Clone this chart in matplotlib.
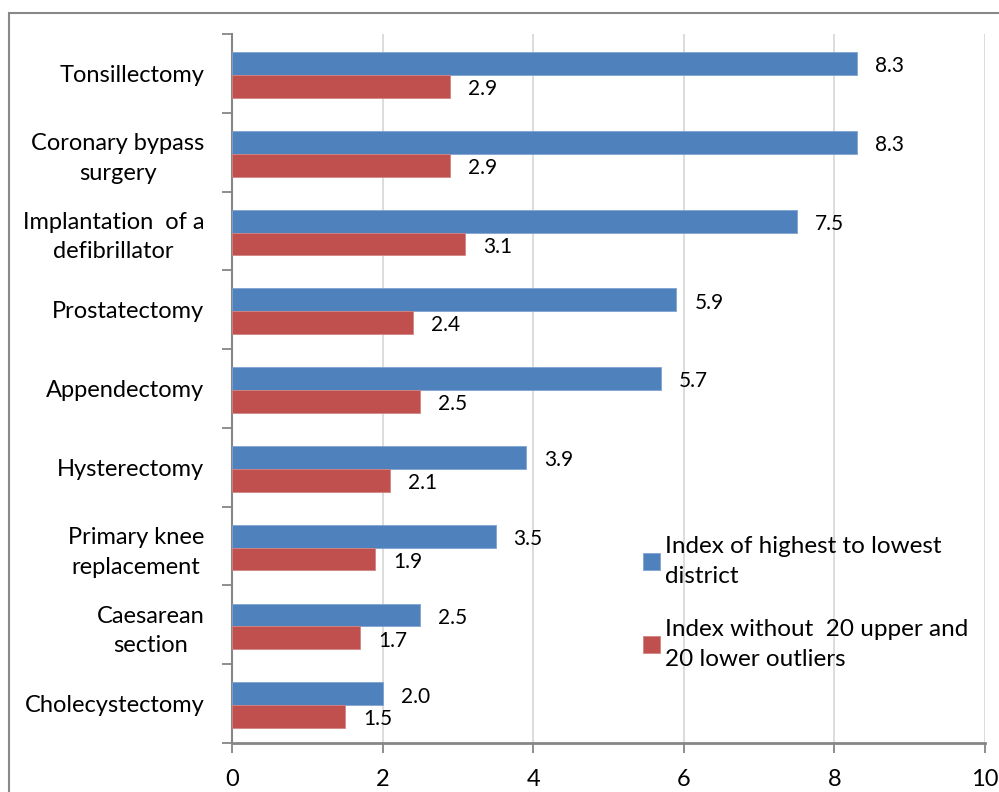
import matplotlib
matplotlib.use("Agg")
import matplotlib.pyplot as plt
from matplotlib.patches import Rectangle
import numpy as np

categories = ["Tonsillectomy", "Coronary bypass\nsurgery", "Implantation  of a\ndefibrillator",
              "Prostatectomy", "Appendectomy", "Hysterectomy", "Primary knee\nreplacement",
              "Caesarean\nsection", "Cholecystectomy"]
highest_lowest = [8.3, 8.3, 7.5, 5.9, 5.7, 3.9, 3.5, 2.5, 2.0]
without_outliers = [2.9, 2.9, 3.1, 2.4, 2.5, 2.1, 1.9, 1.7, 1.5]
series_labels = ["Index of highest to lowest\ndistrict", "Index without  20 upper and\n20 lower outliers"]
xticks = [0, 2, 4, 6, 8, 10]

plt.rcParams['font.family'] = ['Lato', 'DejaVu Sans']
blue = "#4F81BD"
red = "#C0504D"

fig = plt.figure(figsize=(9.99, 7.92), dpi=100)
ax = fig.add_axes([232/999, 49/792, (985-232)/999, (743-34)/792])

y = np.arange(len(categories))
h = 0.29
b1 = ax.barh(y - h/2 + 0.02, highest_lowest, height=h, color=blue, edgecolor="#7FA3D1", linewidth=0.6, label=series_labels[0], zorder=3)
b2 = ax.barh(y + h/2 + 0.02, without_outliers, height=h, color=red, edgecolor="#D28584", linewidth=0.6, label=series_labels[1], zorder=3)

for bars, vals in ((b1, highest_lowest), (b2, without_outliers)):
    for rect, v in zip(bars, vals):
        ax.annotate(f"{v:.1f}", (v, rect.get_y() + rect.get_height()/2),
                    xytext=(13, -2), textcoords="offset points", va="center", ha="left",
                    fontsize=15, color="black")

ax.set_xlim(0, 10)
ax.set_ylim(len(categories) - 0.5, -0.5)
ax.set_xticks(xticks)
ax.set_xticklabels([str(t) for t in xticks], fontsize=17)
ax.set_yticks(y)
ax.set_yticklabels(categories, fontsize=17, ha="right", multialignment="center", linespacing=1.5)
ax.set_yticks(np.arange(len(categories) + 1) - 0.5, minor=True)
ax.tick_params(axis="y", which="major", length=0, pad=20)
ax.tick_params(axis="y", which="minor", length=7, width=1.3, color="#868686", direction="out")
ax.tick_params(axis="x", which="major", length=7, width=1.3, color="#868686", pad=12)
ax.grid(axis="x", color="#D9D9D9", linewidth=1.3, zorder=0)
for s in ("top", "right"):
    ax.spines[s].set_visible(False)
ax.spines["left"].set_color("#868686")
ax.spines["left"].set_linewidth(1.5)
ax.spines["bottom"].set_color("#868686")
ax.spines["bottom"].set_linewidth(2)

leg = ax.legend(loc="upper left", bbox_to_anchor=(633/999, (792-526)/792), bbox_transform=fig.transFigure,
                frameon=False, fontsize=17.5, handlelength=0.72, handleheight=0.72, handletextpad=0.2,
                labelspacing=1.3, borderaxespad=0)
for t in leg.get_texts():
    t.set_linespacing(1.55)

fig.patches.append(Rectangle((9/999, -0.05), 1.1, 1 - 13/792 + 0.05, transform=fig.transFigure,
                             fill=False, edgecolor="#888888", linewidth=1.5))

fig.savefig("out.png", dpi=100)
